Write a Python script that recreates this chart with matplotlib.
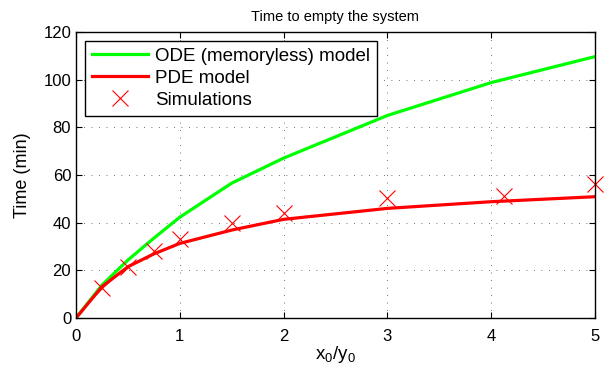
import matplotlib
matplotlib.use('Agg')
import matplotlib.pyplot as plt
# ------------------------------ #

ratioModel = [0, 0.25, 0.5, 0.75, 1, 1.5, 2, 3, 4, 5]
timeODE = [0, 13.8, 24.3, 33.5, 42.3, 56.6, 67.1, 85.0, 98.8, 109.7]
timePDE = [0, 13.1, 21.5, 26.9, 31.3, 36.9, 41.4, 46.0, 48.8, 50.9]

ratioSim = [0.25, 0.5, 0.75, 1, 1.5, 2, 3, 4.12, 5]
timeSim = [12.4, 21.5, 28.1, 33.0, 39.7, 44.2, 50.2, 51.2, 56.2]
# ------------------------------ #

plt.rcParams['font.family'] = ['Liberation Sans', 'DejaVu Sans']
plt.rcParams['mathtext.fontset'] = 'custom'
plt.rcParams['mathtext.rm'] = 'Liberation Sans'
plt.rcParams['mathtext.it'] = 'Liberation Sans'

fig = plt.figure(figsize = (6.08, 3.73), dpi = 100)
ax = fig.add_axes([0.125, 0.1475, 0.8536, 0.7665])

ax.plot(ratioModel, timeODE, color = '#00ff00', linewidth = 2.3, label = 'ODE (memoryless) model')
ax.plot(ratioModel, timePDE, color = '#ff0000', linewidth = 2.3, label = 'PDE model')
ax.plot(ratioSim, timeSim, linestyle = 'none', marker = 'x', markersize = 11,
	markeredgewidth = 0.8, color = '#ff0000', label = 'Simulations', clip_on = False)

ax.set_xlim(0, 5)
ax.set_ylim(0, 120)
ax.set_xticks(range(0, 6))
ax.set_yticks(range(0, 121, 20))
ax.tick_params(direction = 'in', labelsize = 12, length = 4, top = True, right = True)
ax.tick_params(axis = 'x', pad = 8)
ax.grid(True, linestyle = (0, (1, 8)), color = '#444444', linewidth = 0.6)
for spine in ax.spines.values():
	spine.set_linewidth(1.0)

ax.set_xlabel(r'x$_\mathrm{0}$/y$_\mathrm{0}$', fontsize = 13.5, labelpad = 0)
ax.set_ylabel('Time (min)', fontsize = 13, labelpad = 8.5)
ax.set_title('Time to empty the system', fontsize = 10.5, pad = 8)

leg = ax.legend(loc = 'upper left', fontsize = 13.5, handlelength = 3.0, handletextpad = 0.37,
	fancybox = False, framealpha = 1, edgecolor = 'black', borderaxespad = 0.48,
	labelspacing = 0.26, borderpad = 0.36)
leg.get_frame().set_linewidth(1.0)

fig.savefig('out.png', dpi = 100)
